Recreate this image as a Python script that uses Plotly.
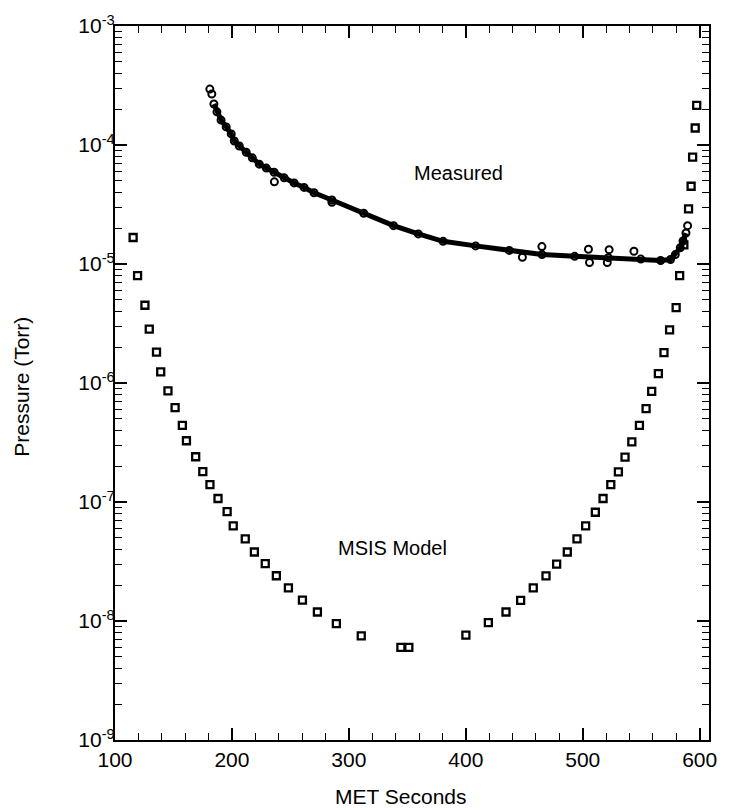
import plotly.graph_objects as go

# ---------------- data ----------------
msis_x = [115.5, 119.3, 125.6, 129.3, 135.5, 139.1, 145.3, 151.4, 157.6, 161.1,
          169.0, 175.1, 181.2, 188.1, 195.9, 201.1, 211.4, 219.2, 228.5, 238.0,
          248.3, 260.3, 273.1, 289.3, 310.6, 344.5, 351.3, 400.1, 419.3, 434.4,
          446.9, 457.7, 468.6, 477.7, 486.8, 495.1, 502.5, 510.8, 517.4, 524.0,
          530.5, 536.2, 542.0, 548.5, 554.2, 559.0, 564.7, 569.5, 574.3, 579.9,
          582.9, 586.5, 590.5, 592.7, 594.0, 596.2, 597.5]
msis_p = [1.67e-5, 8.0e-6, 4.5e-6, 2.84e-6, 1.82e-6, 1.24e-6, 8.6e-7, 6.2e-7, 4.4e-7, 3.27e-7,
          2.4e-7, 1.8e-7, 1.4e-7, 1.07e-7, 8.3e-8, 6.3e-8, 4.9e-8, 3.8e-8, 3.03e-8, 2.4e-8,
          1.9e-8, 1.5e-8, 1.19e-8, 9.5e-9, 7.5e-9, 6.0e-9, 6.0e-9, 7.6e-9, 9.7e-9, 1.19e-8,
          1.49e-8, 1.9e-8, 2.39e-8, 3.0e-8, 3.8e-8, 4.9e-8, 6.3e-8, 8.2e-8, 1.07e-7, 1.4e-7,
          1.79e-7, 2.38e-7, 3.2e-7, 4.4e-7, 6.1e-7, 8.5e-7, 1.2e-6, 1.8e-6, 2.8e-6, 4.3e-6,
          8.0e-6, 1.45e-5, 2.9e-5, 4.5e-5, 7.9e-5, 1.39e-4, 2.15e-4]

meas_curve_x = [184.6, 187.2, 190.7, 195.1, 199.4, 202.0, 206.3, 212.2, 217.4, 223.4,
                229.4, 236.1, 244.7, 253.2, 261.7, 270.2, 285.5, 312.7, 338.2, 359.4,
                380.6, 408.4, 437.2, 465.2, 493.1, 521.9, 549.7, 566.6, 575.1, 579.2,
                583.4, 585.8, 588.3]
meas_curve_p = [2.21e-4, 1.9e-4, 1.62e-4, 1.42e-4, 1.24e-4, 1.08e-4, 9.8e-5, 8.7e-5, 7.8e-5, 6.9e-5,
                6.4e-5, 5.9e-5, 5.3e-5, 4.8e-5, 4.4e-5, 3.97e-5, 3.45e-5, 2.67e-5, 2.1e-5, 1.79e-5,
                1.55e-5, 1.42e-5, 1.3e-5, 1.2e-5, 1.16e-5, 1.13e-5, 1.1e-5, 1.07e-5, 1.09e-5, 1.2e-5,
                1.37e-5, 1.56e-5, 1.82e-5]

meas_scatter_x = [181.1, 182.8, 236.3, 285.5, 448.4, 465.1, 504.9, 505.8, 521.0, 522.6, 543.8, 589.7]
meas_scatter_p = [2.95e-4, 2.68e-4, 4.9e-5, 3.3e-5, 1.14e-5, 1.4e-5, 1.33e-5, 1.03e-5, 1.03e-5,
                  1.32e-5, 1.28e-5, 2.1e-5]

y_tickvals = [1e-9, 1e-8, 1e-7, 1e-6, 1e-5, 1e-4, 1e-3]
y_ticktext = ["10<sup>-9</sup>", "10<sup>-8</sup>", "10<sup>-7</sup>", "10<sup>-6</sup>",
              "10<sup>-5</sup>", "10<sup>-4</sup>", "10<sup>-3</sup>"]
x_tickvals = [100, 200, 300, 400, 500, 600]

FONT = "Liberation Sans, Arial, sans-serif"

fig = go.Figure()

fig.add_trace(go.Scatter(
    x=msis_x, y=msis_p, mode="markers", name="MSIS Model",
    marker=dict(symbol="square-open", size=7, color="black", line=dict(width=2.3, color="black")),
))
fig.add_trace(go.Scatter(
    x=meas_curve_x, y=meas_curve_p, mode="lines+markers", name="Measured",
    line=dict(color="black", width=5),
    marker=dict(symbol="circle-open", size=7, color="black", line=dict(width=2, color="black")),
))
fig.add_trace(go.Scatter(
    x=meas_scatter_x, y=meas_scatter_p, mode="markers", name="Measured points",
    marker=dict(symbol="circle-open", size=7, color="black", line=dict(width=2, color="black")),
))

fig.update_layout(
    width=729, height=810,
    margin=dict(l=115, r=13, t=19, b=70),
    paper_bgcolor="white", plot_bgcolor="white",
    showlegend=False,
    font=dict(family=FONT, size=20, color="black"),
    xaxis=dict(
        range=[100, 608], tickvals=x_tickvals, ticks="inside", ticklen=12, tickwidth=1.6,
        tickcolor="black", showline=True, linecolor="black", linewidth=2.2, mirror="ticks",
        showgrid=False, zeroline=False, tickfont=dict(size=21, family=FONT),
        minor=dict(dtick=20, ticks="inside", ticklen=7, tickwidth=1.4, tickcolor="black", showgrid=False),
    ),
    yaxis=dict(
        type="log", range=[-9, -3], tickvals=y_tickvals, ticktext=y_ticktext,
        ticks="inside", ticklen=12, tickwidth=1.6, tickcolor="black",
        showline=True, linecolor="black", linewidth=2.2, mirror="ticks",
        showgrid=False, zeroline=False, tickfont=dict(size=21, family=FONT),
        ticklabelstandoff=-6,
        minor=dict(dtick="D1", ticks="inside", ticklen=7, tickwidth=1.4, tickcolor="black", showgrid=False),
    ),
    annotations=[
        dict(x=394, y=-4.235, xref="x", yref="y", text="Measured", showarrow=False,
             font=dict(size=20, family=FONT)),
        dict(x=337, y=-7.39, xref="x", yref="y", text="MSIS Model", showarrow=False,
             font=dict(size=20, family=FONT)),
        dict(x=-0.158, y=0.495, xref="paper", yref="paper", text="Pressure (Torr)",
             textangle=-90, showarrow=False, xanchor="center", yanchor="middle",
             font=dict(size=21, family=FONT)),
        dict(x=0.481, y=-0.079, xref="paper", yref="paper", text="MET Seconds",
             showarrow=False, xanchor="center", yanchor="middle",
             font=dict(size=21, family=FONT)),
    ],
)

fig.write_html("out.html")
